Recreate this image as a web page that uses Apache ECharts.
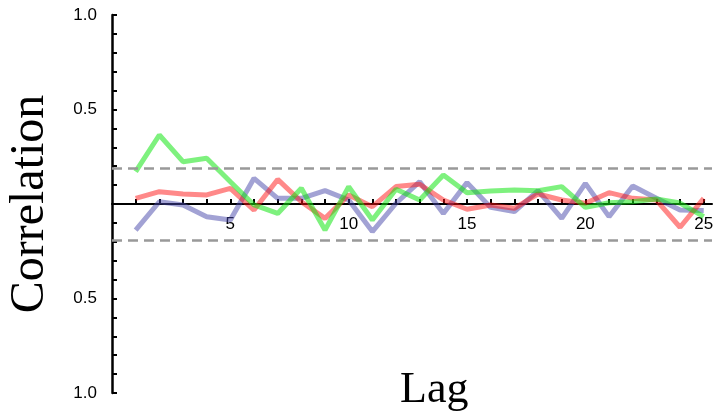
<!DOCTYPE html>
<html>
<head>
<meta charset="utf-8">
<script src="https://cdn.jsdelivr.net/npm/echarts@6/dist/echarts.min.js"></script>
<style>html,body{margin:0;padding:0;background:#fff}#c{width:714px;height:413px}</style>
</head>
<body>
<div id="c"></div>
<script>
const lags = [1,2,3,4,5,6,7,8,9,10,11,12,13,14,15,16,17,18,19,20,21,22,23,24,25];
const xTickLabels = [5,10,15,20,25];
const yTickLabels = [-1,-0.5,0.5,1];
const greenValues = [0.171,0.365,0.224,0.242,0.118,-0.005,-0.05,0.083,-0.138,0.092,-0.085,0.078,0.021,0.153,0.06,0.069,0.074,0.07,0.092,-0.018,0.007,0.012,0.026,0.005,-0.067];
const redValues = [0.03,0.065,0.053,0.048,0.083,-0.032,0.13,0.012,-0.076,0.048,-0.014,0.092,0.104,0.021,-0.028,-0.005,-0.023,0.053,0.021,0.004,0.06,0.03,0.021,-0.123,0.03];
const blueValues = [-0.138,0.012,-0.005,-0.067,-0.085,0.136,0.03,0.03,0.071,0.021,-0.146,0.004,0.118,-0.05,0.113,-0.018,-0.04,0.071,-0.076,0.109,-0.067,0.095,0.03,-0.032,-0.035];
const confBound = 0.19;

const chart = echarts.init(document.getElementById('c'));
const pair = v => lags.map((l,i)=>[l, v[i]]);
const lineSeries = (vals, color) => ({
  type:'line', data: pair(vals), symbol:'none', silent:true,
  lineStyle:{color: color, width:5}, z:3
});
const gridTop = 15, gridBottom = 20, plotH = 413 - gridTop - gridBottom;
chart.setOption({
  animation:false,
  grid:{left:112, right:2, top:gridTop, bottom:gridBottom, outerBoundsMode:'none', containLabel:false},
  title:{text:'Lag', left:395, top:363, textStyle:{fontFamily:'Liberation Serif', fontWeight:'normal', fontSize:44, color:'#000'}},
  xAxis:{
    type:'value', min:0, max:25.35, interval:1,
    offset: -plotH/2,
    axisLine:{onZero:false, lineStyle:{color:'#000', width:2}},
    axisTick:{inside:true, length:5, lineStyle:{color:'#000', width:2}, customValues: lags},
    axisLabel:{customValues: xTickLabels, margin:12, fontFamily:'Liberation Sans', fontSize:17, color:'#000'},
    splitLine:{show:false}
  },
  yAxis:{
    type:'value', min:-1, max:1, interval:0.1,
    name:'Correlation', nameLocation:'middle', nameRotate:90, nameGap:58,
    nameTextStyle:{fontFamily:'Liberation Serif', fontSize:48, color:'#000'},
    axisLine:{show:true, lineStyle:{color:'#000', width:2.5}},
    axisTick:{inside:true, length:5, lineStyle:{color:'#000', width:2}},
    axisLabel:{customValues: yTickLabels, margin:15, fontFamily:'Liberation Sans', fontSize:17, color:'#000',
      formatter: v => Math.abs(v).toFixed(1)},
    splitLine:{show:false}
  },
  series:[
    {type:'line', data:[], z:1, markLine:{silent:true, symbol:'none', label:{show:false},
      lineStyle:{color:'#999', width:2.5, type:[10,6]},
      data:[{yAxis:confBound},{yAxis:-confBound}]}},
    lineSeries(blueValues, 'rgba(70,70,170,0.5)'),
    lineSeries(redValues, 'rgba(255,20,20,0.5)'),
    lineSeries(greenValues, 'rgba(20,230,20,0.55)')
  ]
});
</script>
</body>
</html>
